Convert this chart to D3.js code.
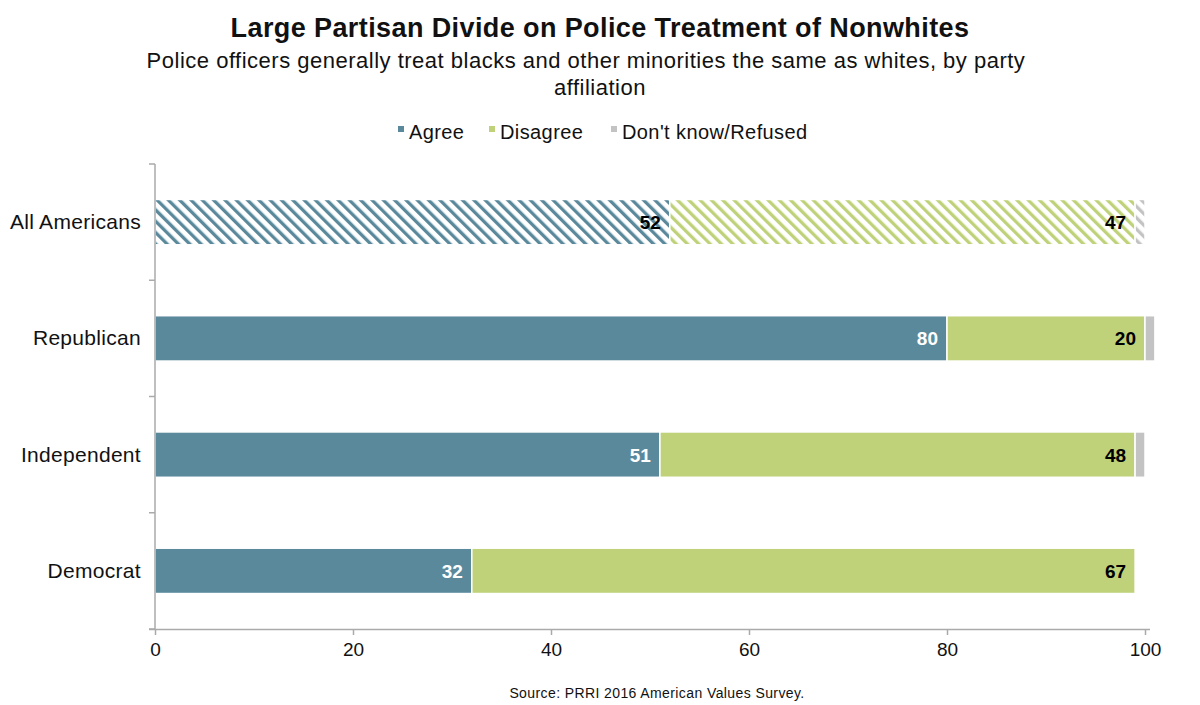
<!DOCTYPE html>
<html><head><meta charset="utf-8">
<script src="https://cdn.jsdelivr.net/npm/d3@7"></script>
<style>body{margin:0;background:#fff;font-family:"Liberation Sans",Arial,sans-serif}</style>
</head><body>
<svg id="c" width="1200" height="705"></svg>
<script>
const categories = ["All Americans","Republican","Independent","Democrat"];
const agree = [52,80,51,32];
const disagree = [47,20,48,67];
const dontKnow = [1,1,1,0];
const seriesNames = ["Agree","Disagree","Don't know/Refused"];
const xTicks = [0,20,40,60,80,100];
const colors = {"Agree":"#5b899c","Disagree":"#bfd27a","Don't know/Refused":"#c3c3c3"};

const svg = d3.select("#c");
const defs = svg.append("defs");
function hatch(id, color){
  const p = defs.append("pattern").attr("id",id).attr("patternUnits","userSpaceOnUse")
    .attr("width",8).attr("height",8).attr("patternTransform","rotate(-45)");
  p.append("rect").attr("width",8).attr("height",8).attr("fill","#fff");
  p.append("rect").attr("x",0).attr("y",0).attr("width",3.3).attr("height",8).attr("fill",color);
}
hatch("hA", colors["Agree"]); hatch("hD", colors["Disagree"]); hatch("hK", colors["Don't know/Refused"]);
const hatchIds = {"Agree":"hA","Disagree":"hD","Don't know/Refused":"hK"};

const x = d3.scaleLinear().domain([0,100]).range([155,1145]);
const y = d3.scaleBand().domain(categories).range([164,629]).paddingInner(0.61).paddingOuter(0.305);

svg.append("text").attr("x",600).attr("y",37).attr("text-anchor","middle")
  .attr("font-size",27).attr("font-weight","bold").attr("letter-spacing",0.4).attr("fill","#111")
  .text("Large Partisan Divide on Police Treatment of Nonwhites");
svg.append("text").attr("x",586).attr("y",68).attr("text-anchor","middle")
  .attr("font-size",22).attr("letter-spacing",0.5).attr("fill","#111")
  .text("Police officers generally treat blacks and other minorities the same as whites, by party");
svg.append("text").attr("x",600).attr("y",95).attr("text-anchor","middle")
  .attr("font-size",22).attr("letter-spacing",0.5).attr("fill","#111").text("affiliation");

// legend
const leg = [{n:"Agree",x:398},{n:"Disagree",x:489},{n:"Don't know/Refused",x:611}];
leg.forEach(l=>{
  svg.append("rect").attr("x",l.x).attr("y",126).attr("width",6).attr("height",6).attr("fill",colors[l.n]);
  svg.append("text").attr("x",l.x+11).attr("y",139).attr("font-size",20).attr("letter-spacing",0.4).attr("fill","#111").text(l.n);
});

const rows = categories.map((c,i)=>({cat:c, vals:[agree[i],disagree[i],dontKnow[i]]}));
const gBars = svg.append("g");
rows.forEach((r,i)=>{
  let cum = 0;
  r.vals.forEach((v,j)=>{
    const name = seriesNames[j];
    if(v>0){
      gBars.append("rect").attr("x",x(cum)).attr("y",y(r.cat))
        .attr("width",x(cum+v)-x(cum)).attr("height",y.bandwidth())
        .attr("fill", i===0 ? `url(#${hatchIds[name]})` : colors[name])
        .attr("stroke","#fff").attr("stroke-width",1.5);
      if(j<2){
        gBars.append("text").attr("x",x(cum+v)-9).attr("y",y(r.cat)+y.bandwidth()/2+7)
          .attr("text-anchor","end").attr("font-size",19).attr("font-weight","bold")
          .attr("fill", (j===0 && i>0) ? "#fff" : "#000").text(v);
      }
    }
    cum += v;
  });
});

// y axis
svg.append("line").attr("x1",155).attr("x2",155).attr("y1",164).attr("y2",629).attr("stroke","#aaa").attr("stroke-width",1.5);
const bounds = [164].concat(categories.map(c=>y(c)+y.bandwidth()+y.step()*y.paddingInner()/2));
bounds.forEach(b=>svg.append("line").attr("x1",149).attr("x2",155).attr("y1",b).attr("y2",b).attr("stroke","#aaa").attr("stroke-width",1.5));
categories.forEach(c=>svg.append("text").attr("x",141).attr("y",y(c)+y.bandwidth()/2+7)
  .attr("text-anchor","end").attr("font-size",21).attr("letter-spacing",0.3).attr("fill","#111").text(c));

// x axis
const xa = svg.append("g").attr("transform","translate(0,629)")
  .call(d3.axisBottom(x).tickValues(xTicks).tickSize(6).tickPadding(8).tickSizeOuter(0));
xa.select(".domain").attr("stroke","#aaa").attr("stroke-width",1.5).attr("d","M149,0.5H1150");
xa.selectAll(".tick line").attr("stroke","#aaa").attr("stroke-width",1.5);
xa.selectAll(".tick text").attr("font-size",19).attr("fill","#111").attr("font-family","Liberation Sans, Arial, sans-serif");

svg.append("text").attr("x",657).attr("y",698).attr("text-anchor","middle")
  .attr("font-size",14).attr("letter-spacing",0.4).attr("fill","#111").text("Source: PRRI 2016 American Values Survey.");
</script>
</body></html>
